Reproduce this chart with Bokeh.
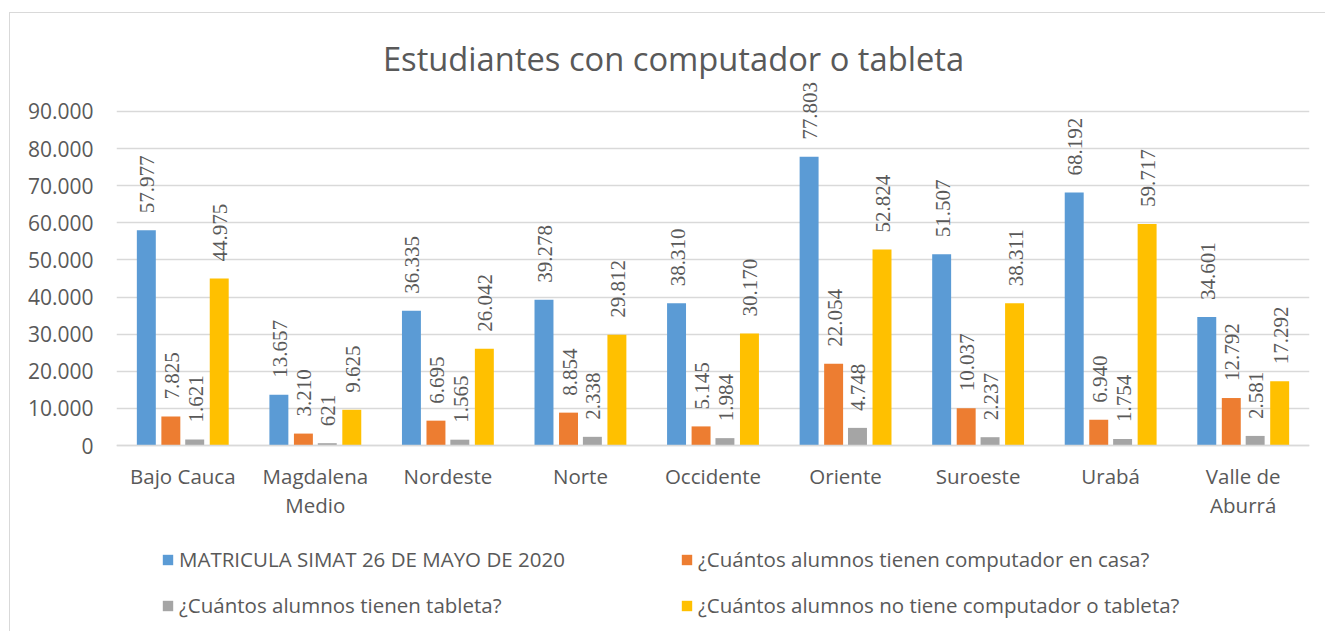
from math import pi
from bokeh.plotting import figure
from bokeh.models import ColumnDataSource, FactorRange, Range1d, FixedTicker, LabelSet, Label, Legend, LegendItem
from bokeh.transform import dodge
from bokeh.embed import file_html
from bokeh.resources import INLINE

categories = ["Bajo Cauca", "Magdalena\nMedio", "Nordeste", "Norte", "Occidente",
              "Oriente", "Suroeste", "Urabá", "Valle de\nAburrá"]
matricula = [57977, 13657, 36335, 39278, 38310, 77803, 51507, 68192, 34601]
computador = [7825, 3210, 6695, 8854, 5145, 22054, 10037, 6940, 12792]
tableta = [1621, 621, 1565, 2338, 1984, 4748, 2237, 1754, 2581]
sin_equipo = [44975, 9625, 26042, 29812, 30170, 52824, 38311, 59717, 17292]
series_names = ["MATRICULA SIMAT 26 DE MAYO DE 2020",
                "¿Cuántos alumnos tienen computador en casa?",
                "¿Cuántos alumnos tienen tableta?",
                "¿Cuántos alumnos no tiene computador o tableta?"]
colors = ["#5B9BD5", "#ED7D31", "#A5A5A5", "#FFC000"]
y_ticks = [0, 10000, 20000, 30000, 40000, 50000, 60000, 70000, 80000, 90000]
title_text = "Estudiantes con computador o tableta"

def fmt(v):
    return f"{v:,}".replace(",", ".")

TXT = "#595959"
FONT = "Open Sans"

p = figure(x_range=FactorRange(*categories, range_padding=0), y_range=Range1d(-49850, 116407),
           width=1316, height=619, output_backend="svg", toolbar_location=None,
           min_border_left=106, min_border_right=17, min_border_top=0, min_border_bottom=2)
p.margin = (12, 0, 0, 9)
p.styles = {"border-left": "1px solid #d9d9d9", "border-top": "1px solid #d9d9d9"}
p.outline_line_color = None
p.background_fill_color = "white"
p.border_fill_color = "white"

p.add_layout(Label(x=557, y=572, x_units="screen", y_units="screen", text=title_text,
                   text_align="center", text_baseline="middle", text_font=FONT,
                   text_font_size="32.7px", text_color=TXT))

offsets = [-0.275, -0.09, 0.09, 0.275]
all_series = [matricula, computador, tableta, sin_equipo]
items = []
for vals, name, col, off in zip(all_series, series_names, colors, offsets):
    src = ColumnDataSource(dict(cat=categories, val=vals, lbl=[fmt(v) for v in vals]))
    r = p.vbar(x=dodge("cat", off, range=p.x_range), top="val", width=0.143, source=src,
               fill_color=col, line_color=None)
    items.append(LegendItem(label=name, renderers=[r]))
    p.add_layout(LabelSet(x=dodge("cat", off, range=p.x_range), y="val", text="lbl", source=src,
                          angle=pi / 2, y_offset=17, x_offset=1, text_align="left",
                          text_baseline="middle", text_font=FONT, text_font_size="21px",
                          text_color=TXT))

p.yaxis.ticker = FixedTicker(ticks=y_ticks)
p.yaxis.major_label_overrides = {t: fmt(t) for t in y_ticks}
p.yaxis.axis_line_color = None
p.yaxis.major_tick_line_color = None
p.yaxis.minor_tick_line_color = None
p.yaxis.major_tick_out = 0
p.yaxis.major_label_standoff = 23
p.yaxis.major_label_text_font = FONT
p.yaxis.major_label_text_font_size = "21px"
p.yaxis.major_label_text_color = TXT

p.xaxis.fixed_location = 0
p.xaxis.axis_line_color = "#d9d9d9"
p.xaxis.axis_line_width = 1.5
p.xaxis.major_tick_line_color = None
p.xaxis.major_tick_out = 0
p.xaxis.major_label_standoff = 16
p.xaxis.major_label_text_font = FONT
p.xaxis.major_label_text_font_size = "20.5px"
p.xaxis.major_label_text_color = TXT
p.xaxis.major_label_text_line_height = 1.06

p.xgrid.grid_line_color = None
p.ygrid.grid_line_color = "#d9d9d9"
p.ygrid.grid_line_width = 1.5

legend = Legend(items=items, ncols=2, orientation="horizontal", location=(45, 11),
                border_line_color=None, background_fill_alpha=0, padding=0, margin=0,
                spacing=18, label_standoff=5, glyph_width=13, glyph_height=13,
                label_width=483, label_text_font=FONT, label_text_font_size="20.5px",
                label_text_color=TXT)
p.add_layout(legend, "center")

open("out.html", "w").write(file_html(p, INLINE))
